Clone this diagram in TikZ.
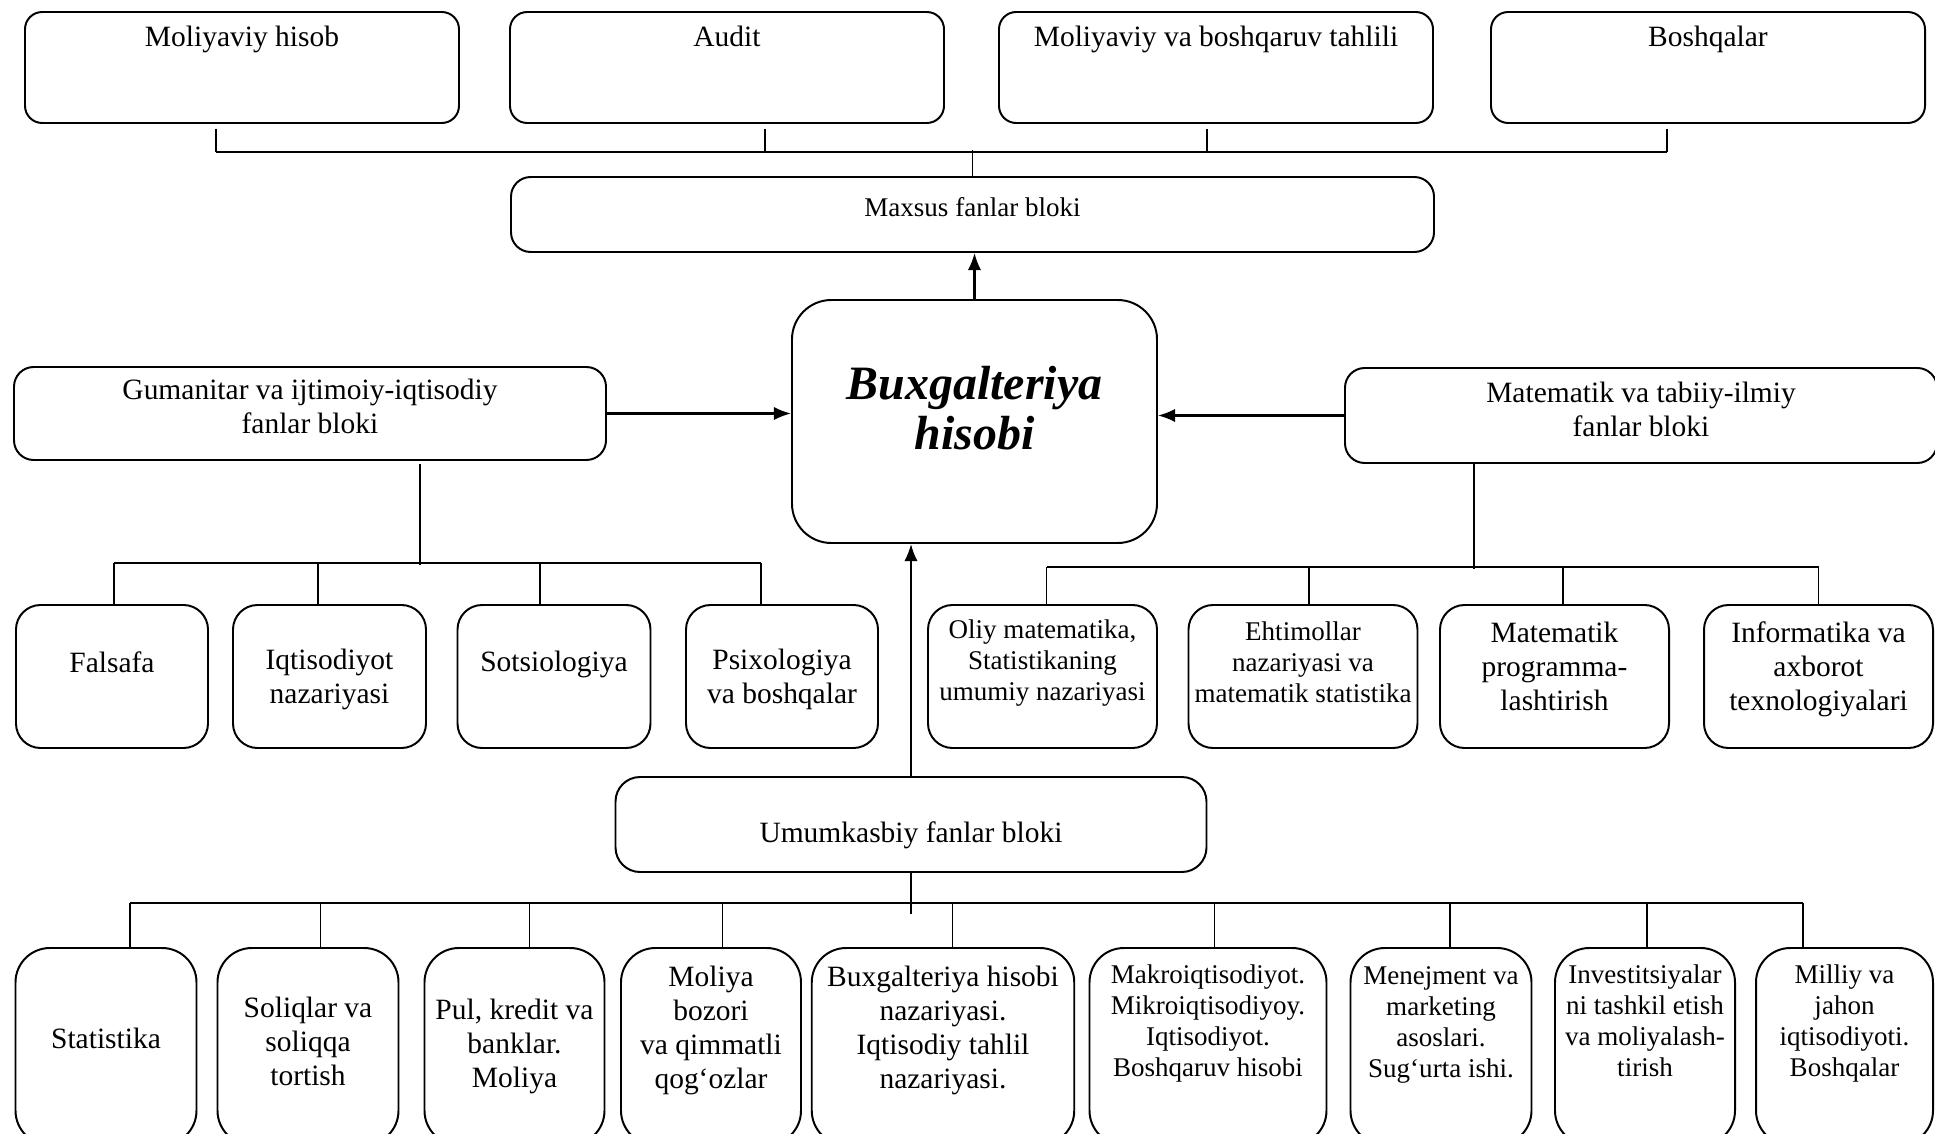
\documentclass[tikz,border=0pt]{standalone}
\usepackage{fontspec}
\setmainfont{Liberation Serif}
\usetikzlibrary{arrows.meta}

\newcommand{\pxu}{0.407pt}

\begin{document}
\begin{tikzpicture}[x=0.407pt, y=-0.407pt,
    quti/.style={draw, line width=0.8pt, align=center, inner sep=2pt,
      font=\fontsize{12}{13.8}\selectfont},
    olcham/.style 2 args={minimum width=#1*\pxu, minimum height=#2*\pxu},
    kichik/.style={font=\fontsize{11}{12.6}\selectfont},
    yuqori/.style={quti, rounded corners=7pt, olcham={434}{111},
      text height=8pt, text depth=25pt},
    fan/.style={quti, rounded corners=10pt},
    quyi/.style={quti, rounded corners=14pt},
    chiziq/.style={line width=0.6pt},
    strelka/.style={line width=0.9pt, -{Latex[length=7pt,width=5.5pt]}}]
  \clip (0,0) rectangle (1935,1134);
  \fill[white] (0,0) rectangle (1935,1134);

  % maxsus fanlar
  \node[yuqori] (m1) at (242,67.5) {Moliyaviy hisob};
  \node[yuqori] (m2) at (727,67.5) {Audit};
  \node[yuqori] (m3) at (1216,67.5) {Moliyaviy va boshqaruv tahlili};
  \node[yuqori] (m4) at (1708,67.5) {Boshqalar};
  \node[quti, kichik, rounded corners=8pt, olcham={923}{75}, text depth=6pt]
    (maxsus) at (972.5,214.5) {Maxsus fanlar bloki};

  % markaz
  \node[quti, rounded corners=16pt, olcham={365}{243}, text depth=11pt,
    font=\fontsize{19.5}{20.6}\selectfont\bfseries\itshape]
    (markaz) at (974.5,421.5) {Buxgalteriya\\hisobi};

  \node[quti, rounded corners=8pt, olcham={592}{93}, text depth=6pt] (gum) at (310,413.5)
    {Gumanitar va ijtimoiy-iqtisodiy\\fanlar bloki};
  \node[quti, rounded corners=8pt, olcham={592}{95}, text depth=5pt] (mat) at (1641,415.5)
    {Matematik va tabiiy-ilmiy\\fanlar bloki};

  % ikkinchi qator
  \node[fan, olcham={192}{143}, text depth=12pt] (f1) at (112,676.5) {Falsafa};
  \node[fan, olcham={193}{143}, text depth=0pt] (f2) at (329.5,676.5) {Iqtisodiyot\\nazariyasi};
  \node[fan, olcham={193}{143}, text depth=12pt] (f3) at (554,676.5) {Sotsiologiya};
  \node[fan, olcham={192}{143}, text depth=0pt] (f4) at (782,676.5) {Psixologiya\\va boshqalar};
  \node[fan, kichik, olcham={229}{143}, text depth=13.6pt] (r1) at (1042.5,676.5)
    {Oliy matematika,\\Statistikaning\\umumiy nazariyasi};
  \node[fan, kichik, olcham={229}{143}, text depth=12pt] (r2) at (1303,676.5)
    {Ehtimollar\\nazariyasi va\\matematik statistika};
  \node[fan, olcham={229}{143}, text depth=8.6pt] (r3) at (1554.5,676.5)
    {Matematik\\programma-\\lashtirish};
  \node[fan, olcham={229}{143}, text depth=8.6pt] (r4) at (1818.5,676.5)
    {Informatika va\\axborot\\texnologiyalari};

  \node[quti, rounded corners=10pt, olcham={591}{95}, text height=17pt]
    (umum) at (911,824.5) {Umumkasbiy fanlar bloki};

  % quyi qator
  \node[quyi, olcham={181}{197}, text depth=7pt] (b1) at (106,1046.5) {Statistika};
  \node[quyi, olcham={181}{197}, text depth=4pt] (b2) at (308,1046.5)
    {Soliqlar va\\soliqqa\\tortish};
  \node[quyi, olcham={180}{197}] (b3) at (514.5,1046.5) {Pul, kredit va\\banklar.\\Moliya};
  \node[quyi, olcham={180}{197}, text depth=15.6pt] (b4) at (711,1046.5)
    {Moliya\\bozori\\va qimmatli\\qog‘ozlar};
  \node[quyi, olcham={262.5}{197}, text depth=15.6pt] (b5) at (943,1046.5)
    {Buxgalteriya hisobi\\nazariyasi.\\Iqtisodiy tahlil\\nazariyasi.};
  \node[quyi, kichik, olcham={237}{197}, text depth=21.4pt] (b6) at (1208,1046.5)
    {Makroiqtisodiyot.\\Mikroiqtisodiyoy.\\Iqtisodiyot.\\Boshqaruv hisobi};
  \node[quyi, kichik, olcham={181}{197}, text depth=20pt] (b7) at (1441,1046.5)
    {Menejment va\\marketing\\asoslari.\\Sug‘urta ishi.};
  \node[quyi, kichik, olcham={180}{197}, text depth=21pt] (b8) at (1645,1046.5)
    {Investitsiyalar\\ni tashkil etish\\va moliyalash-\\tirish};
  \node[quyi, kichik, olcham={177}{197}, text depth=21.4pt] (b9) at (1844.5,1046.5)
    {Milliy va\\jahon\\iqtisodiyoti.\\Boshqalar};

  % tutashtiruvchi chiziqlar
  \foreach \n/\dx in {m1/-26, m2/38, m3/-9, m4/-41}
    \draw[chiziq] ([xshift=\dx*\pxu, yshift=-5*\pxu]\n.south) -- ++(0,23);
  \draw[chiziq] ([xshift=-26*\pxu, yshift=-28*\pxu]m1.south)
    -- ([xshift=-41*\pxu, yshift=-28*\pxu]m4.south);
  \draw[chiziq] (maxsus.north) -- ++(0,-26);

  \draw[chiziq] ([xshift=110*\pxu, yshift=-3*\pxu]gum.south) -- ++(0,101);
  \draw[chiziq] ([xshift=2*\pxu, yshift=41*\pxu]f1.north)
    -- ([xshift=-21*\pxu, yshift=41*\pxu]f4.north);
  \foreach \n/\dx in {f1/2, f2/-11.5, f3/-14, f4/-21}
    \draw[chiziq] ([xshift=\dx*\pxu]\n.north) -- ++(0,-41);

  \draw[chiziq] ([xshift=-167*\pxu]mat.south) -- ++(0,105);
  \draw[chiziq] ([xshift=4*\pxu, yshift=37*\pxu]r1.north)
    -- ([yshift=37*\pxu]r4.north);
  \foreach \n/\dx in {r1/4, r2/6, r3/8.5, r4/0}
    \draw[chiziq] ([xshift=\dx*\pxu]\n.north) -- ++(0,-37);

  \draw[chiziq] (umum.south) -- ++(0,41);
  \draw[chiziq] ([xshift=24*\pxu, yshift=44*\pxu]b1.north)
    -- ([xshift=-41.5*\pxu, yshift=44*\pxu]b9.north);
  \foreach \n/\dx in {b1/24, b2/12.6, b3/15, b4/11.6, b5/9.6, b6/6.7, b7/9, b8/2, b9/-41.5}
    \draw[chiziq] ([xshift=\dx*\pxu]\n.north) -- ++(0,-44);

  % strelkalar
  \draw[strelka] (markaz.north) -- (markaz.north |- maxsus.south);
  \draw[strelka] (gum.east) -- (gum.east -| markaz.west);
  \draw[strelka] (mat.west) -- (mat.west -| markaz.east);
  \draw[strelka] (umum.north) -- (umum.north |- markaz.south);
\end{tikzpicture}
\end{document}
